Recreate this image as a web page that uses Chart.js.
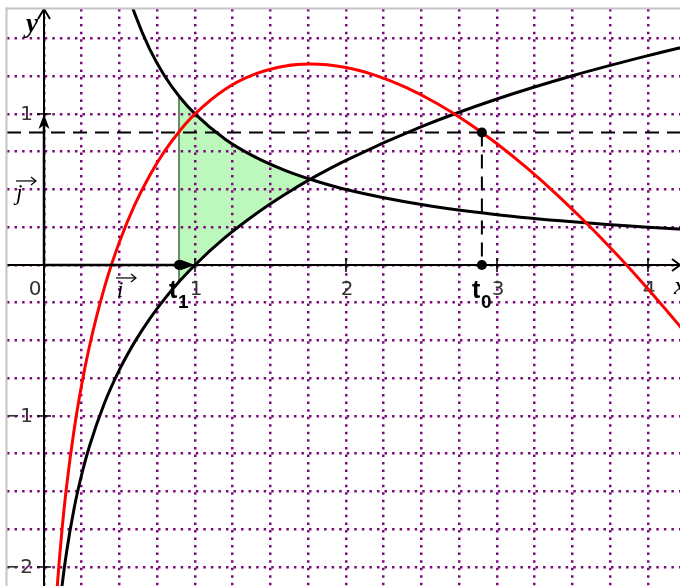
<!DOCTYPE html>
<html>
<head>
<meta charset="utf-8">
<script src="https://cdn.jsdelivr.net/npm/chart.js@4.4.1/dist/chart.umd.min.js"></script>
<style>
  html, body { margin: 0; padding: 0; background: #fff; }
  #wrap { position: relative; width: 680px; height: 586px; }
</style>
</head>
<body>
<div id="wrap"><canvas id="chart" width="680" height="586"></canvas></div>
<script>
// visible window of the graphics view (axis units)
const X_RANGE = [-0.245, 4.212];
const Y_RANGE = [-2.126, 1.695];
const X_LABELS = [1, 2, 3, 4];
const Y_LABELS = [1, -1, -2];

// red curve
const redX = [0.08, 0.09, 0.1, 0.12, 0.15, 0.2, 0.25, 0.3, 0.4, 0.5, 0.6, 0.7, 0.8, 0.9, 1.0,
  1.2, 1.4, 1.6, 1.76, 2.0, 2.2, 2.4, 2.6, 2.8, 3.0, 3.2, 3.4, 3.6, 3.8, 4.0, 4.2, 4.3];
const redY = [-2.244, -2.101, -1.972, -1.746, -1.463, -1.088, -0.790, -0.543, -0.150, 0.153, 0.396,
  0.593, 0.755, 0.889, 1.000, 1.164, 1.265, 1.318, 1.330, 1.307, 1.254, 1.174, 1.071, 0.947, 0.803,
  0.641, 0.463, 0.270, 0.062, -0.159, -0.392, -0.513];

// rising black curve
const lnX = [0.07, 0.08, 0.09, 0.1, 0.12, 0.15, 0.2, 0.25, 0.3, 0.4, 0.5, 0.6, 0.7, 0.8, 0.9, 1.0,
  1.2, 1.4, 1.6, 1.8, 2.0, 2.5, 3.0, 3.5, 4.0, 4.3];
const lnY = [-2.659, -2.526, -2.408, -2.303, -2.120, -1.897, -1.609, -1.386, -1.204, -0.916, -0.693,
  -0.511, -0.357, -0.223, -0.105, 0, 0.182, 0.336, 0.470, 0.588, 0.693, 0.916, 1.099, 1.253, 1.386, 1.459];

// falling black curve
const invX = [0.5, 0.55, 0.6, 0.7, 0.8, 0.9, 1.0, 1.2, 1.4, 1.6, 1.8, 2.0, 2.5, 3.0, 3.5, 4.0, 4.3];
const invY = [2.0, 1.818, 1.667, 1.429, 1.25, 1.111, 1.0, 0.833, 0.714, 0.625, 0.556, 0.5, 0.4,
  0.333, 0.286, 0.25, 0.233];

// shaded region between the two black curves
const areaX = [0.894, 1.0, 1.1, 1.2, 1.3, 1.4, 1.5, 1.6, 1.7, 1.763];
const areaTop = [1.119, 1.0, 0.909, 0.833, 0.769, 0.714, 0.667, 0.625, 0.588, 0.567];
const areaBottom = [-0.112, 0, 0.095, 0.182, 0.262, 0.336, 0.405, 0.470, 0.531, 0.567];

// t1, t0 and the point (t0, f(t0))
const markX = [0.894, 2.9, 2.9];
const markY = [0, 0, 0.877];
const markNames = ['1', '0'];

const pts = (xs, ys) => xs.map((x, i) => ({ x, y: ys[i] }));

function seg(ctx, x1, y1, x2, y2) {
  ctx.beginPath(); ctx.moveTo(x1, y1); ctx.lineTo(x2, y2); ctx.stroke();
}

const drawing = {
  id: 'drawing',
  beforeDatasetsDraw(chart) {
    const { ctx, chartArea: a, scales: { x, y } } = chart;
    const ox = x.getPixelForValue(0), oy = y.getPixelForValue(0);
    ctx.save();
    ctx.beginPath(); ctx.rect(a.left, a.top, a.right - a.left, a.bottom - a.top); ctx.clip();
    ctx.strokeStyle = '#000'; ctx.lineWidth = 2;
    seg(ctx, a.left, oy, a.right, oy);
    seg(ctx, ox, a.top, ox, a.bottom);
    ctx.beginPath();
    ctx.moveTo(a.right - 8, oy - 6); ctx.lineTo(a.right, oy); ctx.lineTo(a.right - 8, oy + 6);
    ctx.moveTo(ox - 6, a.top + 10); ctx.lineTo(ox, a.top); ctx.lineTo(ox + 6, a.top + 10);
    ctx.stroke();

    ctx.lineWidth = 1.5;
    ctx.fillStyle = '#333';
    ctx.font = '20px "DejaVu Sans"';
    ctx.textAlign = 'center'; ctx.textBaseline = 'alphabetic';
    X_LABELS.forEach(v => {
      const px = x.getPixelForValue(v);
      seg(ctx, px, oy - 7, px, oy + 7);
      ctx.fillText(String(v), px + 1, oy + 30);
    });
    ctx.fillText('0', ox - 9, oy + 30);
    ctx.textAlign = 'right'; ctx.textBaseline = 'middle';
    Y_LABELS.forEach(v => {
      const py = y.getPixelForValue(v);
      seg(ctx, ox - 7, py, ox + 7, py);
      ctx.fillText(String(v).replace('-', '\u2212'), ox - 11, py + 1);
    });

    // axis names
    ctx.fillStyle = '#000';
    ctx.textAlign = 'left'; ctx.textBaseline = 'alphabetic';
    ctx.font = 'italic bold 27px "Liberation Serif"';
    ctx.fillText('y', ox - 18, a.top + 23);
    ctx.font = 'italic 26px "Liberation Serif"';
    ctx.fillText('x', a.right - 6, oy + 29);
    ctx.restore();
  },
  afterDatasetsDraw(chart) {
    const { ctx, chartArea: a, scales: { x, y } } = chart;
    const ox = x.getPixelForValue(0), oy = y.getPixelForValue(0);
    const x1 = x.getPixelForValue(1), y1 = y.getPixelForValue(1);
    ctx.save();
    ctx.beginPath(); ctx.rect(a.left, a.top, a.right - a.left, a.bottom - a.top); ctx.clip();
    ctx.strokeStyle = '#000'; ctx.fillStyle = '#000'; ctx.lineWidth = 2.5;
    // unit vectors i and j
    seg(ctx, ox, oy, x1 - 8, oy);
    seg(ctx, ox, oy, ox, y1 + 8);
    ctx.beginPath();
    ctx.moveTo(x1, oy); ctx.lineTo(x1 - 15, oy - 5.5); ctx.lineTo(x1 - 11, oy); ctx.lineTo(x1 - 15, oy + 5.5);
    ctx.closePath(); ctx.fill();
    ctx.beginPath();
    ctx.moveTo(ox, y1); ctx.lineTo(ox - 5.5, y1 + 15); ctx.lineTo(ox, y1 + 11); ctx.lineTo(ox + 5.5, y1 + 15);
    ctx.closePath(); ctx.fill();

    // vector names with small arrows
    ctx.font = 'italic 23px "Liberation Serif"';
    ctx.textAlign = 'left'; ctx.textBaseline = 'alphabetic';
    ctx.fillText('i', ox + 73, oy + 32);
    ctx.fillText('j', ox - 28, oy - 65);
    ctx.lineWidth = 1.2;
    [[ox + 72, oy + 13], [ox - 28, oy - 84]].forEach(([lx, ly]) => {
      seg(ctx, lx, ly, lx + 20, ly);
      ctx.beginPath();
      ctx.moveTo(lx + 15, ly - 4); ctx.lineTo(lx + 20, ly); ctx.lineTo(lx + 15, ly + 4);
      ctx.stroke();
    });

    // t labels
    markNames.forEach((n, i) => {
      const px = x.getPixelForValue(markX[i]);
      ctx.font = 'bold 25px "Liberation Sans"';
      ctx.fillText('t', px - 10, oy + 33);
      ctx.font = 'bold 19px "Liberation Sans"';
      ctx.fillText(n, px - 1, oy + 43);
    });
    ctx.restore();
  },
  afterDraw(chart) {
    const { ctx, chartArea: a } = chart;
    ctx.save();
    ctx.fillStyle = '#c4c4c4';
    ctx.fillRect(a.left - 1.5, a.top - 1.5, 2, a.bottom - a.top + 2);
    ctx.fillRect(a.left - 1.5, a.top - 1.5, a.right - a.left + 2, 2);
    ctx.restore();
  }
};

const gridOpts = { color: '#7d0a7d', lineWidth: 2.5, drawTicks: false };

new Chart(document.getElementById('chart'), {
  type: 'scatter',
  data: {
    datasets: [
      { data: pts(areaX, areaTop), showLine: true, borderWidth: 0, pointRadius: 0,
        backgroundColor: '#bcf8bc', fill: '+1', cubicInterpolationMode: 'monotone', order: 10 },
      { data: pts(areaX, areaBottom), showLine: true, borderWidth: 0, pointRadius: 0,
        fill: false, cubicInterpolationMode: 'monotone', order: 10 },
      { data: pts([markX[0], markX[0]], [areaBottom[0], areaTop[0]]), showLine: true,
        borderColor: '#3d6b3d', borderWidth: 1.5, pointRadius: 0, order: 9 },
      { data: pts(X_RANGE, [markY[2], markY[2]]), showLine: true, borderColor: '#000',
        borderWidth: 2, borderDash: [14, 8], pointRadius: 0, order: 8 },
      { data: pts([markX[2], markX[1]], [markY[2], markY[1]]), showLine: true, borderColor: '#000',
        borderWidth: 2, borderDash: [14, 8], pointRadius: 0, order: 8 },
      { data: pts(lnX, lnY), showLine: true, borderColor: '#000', borderWidth: 3, pointRadius: 0,
        cubicInterpolationMode: 'monotone', order: 5 },
      { data: pts(invX, invY), showLine: true, borderColor: '#000', borderWidth: 3, pointRadius: 0,
        cubicInterpolationMode: 'monotone', order: 5 },
      { data: pts(redX, redY), showLine: true, borderColor: '#ff0000', borderWidth: 3, pointRadius: 0,
        cubicInterpolationMode: 'monotone', order: 4 },
      { data: pts(markX, markY), showLine: false, pointRadius: 5, pointBackgroundColor: '#000',
        pointBorderWidth: 0, order: 0 },
    ],
  },
  options: {
    responsive: false, animation: false, events: [],
    layout: { autoPadding: false, padding: { left: 7, top: 9, right: 0, bottom: 0 } },
    plugins: { legend: { display: false }, tooltip: { enabled: false }, filler: { drawTime: 'beforeDraw' } },
    scales: {
      x: { type: 'linear', min: X_RANGE[0], max: X_RANGE[1],
        ticks: { display: false, stepSize: 0.25, includeBounds: false },
        grid: gridOpts, border: { display: false, dash: [2.5, 5.05] },
        afterFit(s) { s.height = 0; } },
      y: { type: 'linear', min: Y_RANGE[0], max: Y_RANGE[1],
        ticks: { display: false, stepSize: 0.25, includeBounds: false },
        grid: gridOpts, border: { display: false, dash: [2.5, 5.05] },
        afterFit(s) { s.width = 0; } },
    },
  },
  plugins: [drawing],
});
</script>
</body>
</html>
